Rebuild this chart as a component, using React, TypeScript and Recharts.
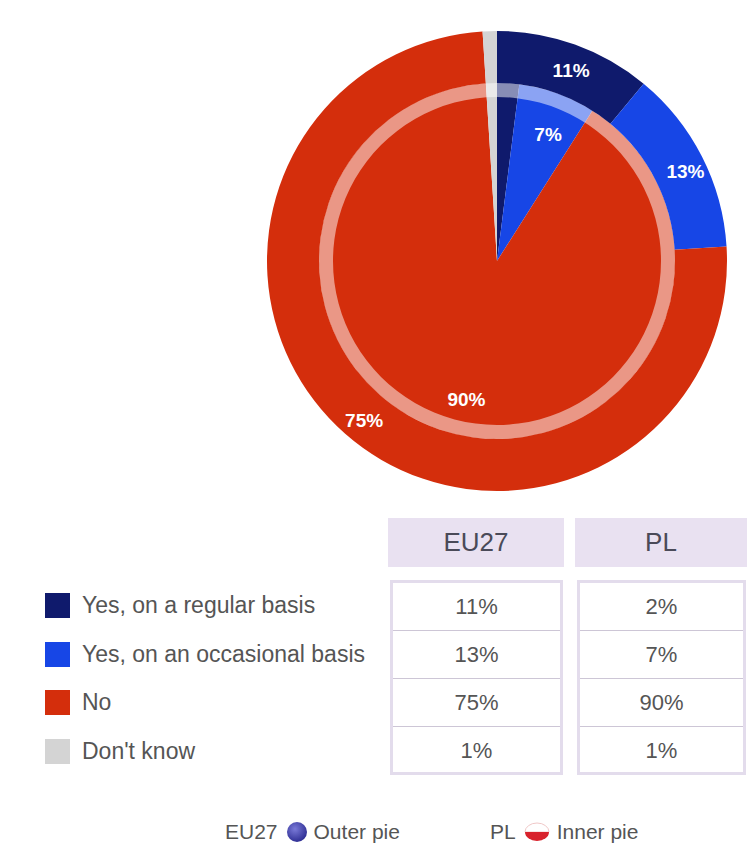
import React from 'react'
import { PieChart, Pie, Cell } from 'recharts'

const categories = ['Yes, on a regular basis', 'Yes, on an occasional basis', 'No', "Don't know"]
const eu27Values = [11, 13, 75, 1]
const plValues = [2, 7, 90, 1]
const colors = ['#0f1a6c', '#1746e6', '#d42e0c', '#d4d4d4']
const columns = ['EU27', 'PL']
const ringValue = [100]

const RAD = Math.PI / 180
const FONT = '"Liberation Sans", Arial, sans-serif'

const eu27Data = categories.map((name, i) => ({ name, value: eu27Values[i] }))
const plData = categories.map((name, i) => ({ name, value: plValues[i] }))

function makeLabel(r: number) {
  return (props: any) => {
    const { cx, cy, midAngle, value } = props
    if (value < 5) return null
    const x = cx + r * Math.cos(-midAngle * RAD) + 4
    const y = cy + r * Math.sin(-midAngle * RAD) + 4
    return (
      <text x={x} y={y} fill="#fff" fontSize={19} fontWeight={700} fontFamily={FONT}
        textAnchor="middle" dominantBaseline="central">
        {value}%
      </text>
    )
  }
}

const cellText = { fontFamily: FONT, color: '#555', fontSize: 22 }

export default function App() {
  const tableCols = [eu27Values, plValues]
  const colX = [390, 577]
  const colW = [167, 163]
  return (
    <div style={{ position: 'absolute', left: 0, top: 0, width: 755, height: 865, background: '#fff', fontFamily: FONT }}>
      <PieChart width={755} height={510} margin={{ top: 0, right: 0, bottom: 0, left: 0 }}
        style={{ position: 'absolute', left: 0, top: 0 }}>
        <Pie data={plData} dataKey="value" cx={497} cy={261} innerRadius={0} outerRadius={178}
          startAngle={90} endAngle={-270} stroke="none" isAnimationActive={false}
          labelLine={false} label={makeLabel(139)}>
          {plData.map((d, i) => <Cell key={d.name} fill={colors[i]} />)}
        </Pie>
        <Pie data={ringValue.map(v => ({ value: v }))} dataKey="value" cx={497} cy={261}
          innerRadius={164} outerRadius={178} startAngle={90} endAngle={-270}
          fill="#ffffff" fillOpacity={0.5} stroke="none" isAnimationActive={false} />
        <Pie data={eu27Data} dataKey="value" cx={497} cy={261} innerRadius={178} outerRadius={230}
          startAngle={90} endAngle={-270} stroke="none" isAnimationActive={false}
          labelLine={false} label={makeLabel(207)}>
          {eu27Data.map((d, i) => <Cell key={d.name} fill={colors[i]} />)}
        </Pie>
      </PieChart>

      {columns.map((c, j) => (
        <div key={c} style={{
          position: 'absolute', left: colX[j] - 2, top: 518, width: colW[j] + 9, height: 49,
          background: '#e9e1f1', color: '#4a4a58', fontSize: 26,
          display: 'flex', alignItems: 'center', justifyContent: 'center',
        }}>{c}</div>
      ))}

      {tableCols.map((vals, j) => (
        <div key={j} style={{
          position: 'absolute', left: colX[j], top: 580, width: colW[j], height: 189,
          border: '3px solid #e3dcec', background: '#fff',
        }}>
          {vals.map((v, i) => (
            <div key={i} style={{
              ...cellText, height: i < 3 ? 47 : 48,
              borderBottom: i < 3 ? '1px solid #cdc6d6' : 'none',
              display: 'flex', alignItems: 'center', justifyContent: 'center',
            }}>{v}%</div>
          ))}
        </div>
      ))}

      {categories.map((c, i) => (
        <div key={c} style={{ position: 'absolute', left: 45, top: 593 + i * 48.5, height: 25, display: 'flex', alignItems: 'center' }}>
          <div style={{ width: 25, height: 25, background: colors[i] }} />
          <span style={{ marginLeft: 12, color: '#555', fontSize: 23 }}>{c}</span>
        </div>
      ))}

      <div style={{ position: 'absolute', left: 225, top: 819, height: 26, display: 'flex', alignItems: 'center', color: '#555', fontSize: 21 }}>
        <span>EU27</span>
        <svg width={22} height={22} style={{ margin: '0 6px 0 8px' }}>
          <defs>
            <radialGradient id="eu" cx="40%" cy="35%" r="70%">
              <stop offset="0%" stopColor="#7a7ad8" />
              <stop offset="100%" stopColor="#2a2a90" />
            </radialGradient>
          </defs>
          <circle cx={11} cy={11} r={10} fill="url(#eu)" />
        </svg>
        <span>Outer pie</span>
      </div>
      <div style={{ position: 'absolute', left: 490, top: 819, height: 26, display: 'flex', alignItems: 'center', color: '#555', fontSize: 21 }}>
        <span>PL</span>
        <svg width={28} height={22} style={{ margin: '0 6px 0 7px' }}>
          <path d="M2 11 A12 9 0 0 1 26 11 Z" fill="#fff" stroke="#f0c8c8" strokeWidth={1} />
          <path d="M2 11 A12 9 0 0 0 26 11 Z" fill="#d8222c" />
        </svg>
        <span>Inner pie</span>
      </div>
    </div>
  )
}
